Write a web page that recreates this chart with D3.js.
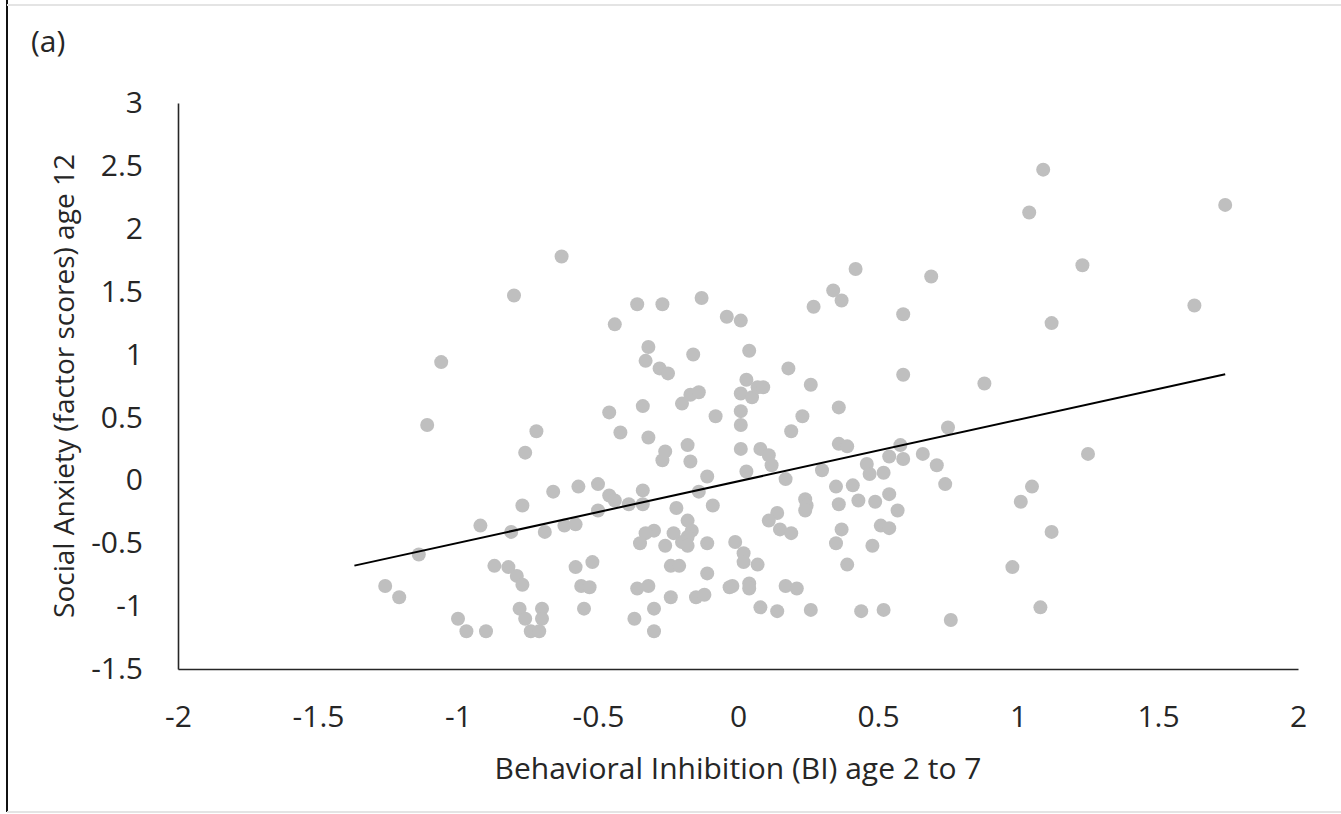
<!DOCTYPE html>
<html>
<head>
<meta charset="utf-8">
<script src="https://cdn.jsdelivr.net/npm/d3@7"></script>
<style>
  html, body { margin: 0; padding: 0; background: #fff; }
  svg { display: block; }
  text { font-family: "Open Sans", "Noto Sans", sans-serif; fill: #262626; }
</style>
</head>
<body>
<svg id="chart" width="1341" height="814"></svg>
<script>
// BI (x) vs social anxiety (y)
const biScores = [
  -0.63, -0.80, -0.44, -1.06, -1.11, -0.72, -0.46, -0.42, -0.76, -0.77,
  -0.66, -0.57, -0.50, -0.46, -0.44, -0.50, -0.92, -0.81, -0.69, -0.62,
  -0.58, -1.14, -0.87, -0.82, -0.79, -0.77, -0.58, -0.52, -0.56, -0.53,
  -1.26, -1.21, -0.78, -0.70, -0.76, -0.70, -0.55, -1.00, -0.97, -0.90,
  -0.74, -0.71,
  0.42, 0.34, 0.37, 0.27, -0.36, -0.27, -0.13, -0.04, 0.01, -0.32,
  -0.33, -0.28, -0.25, -0.16, 0.04, 0.18, 0.03, 0.01, 0.05, 0.07,
  0.09, 0.26, -0.20, -0.17, -0.14, -0.34, -0.08, 0.01, 0.01, 0.23,
  0.36, 0.19, -0.32, -0.18, 0.01, 0.08, 0.36, 0.39,
  -0.26, -0.27, -0.17, 0.11, 0.12, 0.03, 0.17, -0.11, -0.14, -0.09,
  -0.22, -0.34, -0.34, -0.39, 0.30, 0.46, 0.47, 0.52, 0.35, 0.41,
  0.36, 0.43, 0.49, 0.24, 0.245, 0.24, 0.14, 0.11, 0.15, 0.19,
  0.37, 0.35, 0.48, 0.51, 0.39, -0.18, -0.165, -0.18, -0.20, -0.18,
  -0.23, -0.26, -0.30, -0.33, -0.35, -0.11, -0.01, 0.02, 0.02, 0.07,
  -0.24, -0.21, -0.11, -0.36, -0.32, -0.24, -0.15, -0.12, -0.03, -0.02,
  0.04, 0.04, 0.17, 0.21, -0.30, -0.37, -0.30, 0.08, 0.14, 0.26,
  0.44, 0.52,
  1.09, 1.04, 1.74, 1.23, 0.69, 0.59, 1.12, 1.63, 0.59, 0.88,
  0.75, 0.58, 1.25, 0.54, 0.59, 0.66, 0.71, 0.74, 0.54, 0.57,
  0.54, 1.05, 1.01, 1.12, 0.98, 1.08, 0.76
];
const anxietyScores = [
  1.78, 1.47, 1.24, 0.94, 0.44, 0.39, 0.54, 0.38, 0.22, -0.20,
  -0.09, -0.05, -0.03, -0.12, -0.16, -0.24, -0.36, -0.41, -0.41, -0.36,
  -0.35, -0.59, -0.68, -0.69, -0.76, -0.83, -0.69, -0.65, -0.84, -0.85,
  -0.84, -0.93, -1.02, -1.02, -1.10, -1.10, -1.02, -1.10, -1.20, -1.20,
  -1.20, -1.20,
  1.68, 1.51, 1.43, 1.38, 1.40, 1.40, 1.45, 1.30, 1.27, 1.06,
  0.95, 0.89, 0.85, 1.00, 1.03, 0.89, 0.80, 0.69, 0.66, 0.74,
  0.74, 0.76, 0.61, 0.68, 0.70, 0.59, 0.51, 0.55, 0.44, 0.51,
  0.58, 0.39, 0.34, 0.28, 0.25, 0.25, 0.29, 0.27,
  0.23, 0.16, 0.15, 0.20, 0.12, 0.07, 0.01, 0.03, -0.09, -0.20,
  -0.22, -0.08, -0.19, -0.19, 0.08, 0.13, 0.05, 0.06, -0.05, -0.04,
  -0.19, -0.16, -0.17, -0.15, -0.20, -0.24, -0.26, -0.32, -0.39, -0.42,
  -0.39, -0.50, -0.52, -0.36, -0.67, -0.32, -0.40, -0.45, -0.49, -0.52,
  -0.42, -0.52, -0.40, -0.42, -0.50, -0.50, -0.49, -0.58, -0.65, -0.67,
  -0.68, -0.68, -0.74, -0.86, -0.84, -0.93, -0.93, -0.91, -0.85, -0.84,
  -0.82, -0.86, -0.84, -0.86, -1.02, -1.10, -1.20, -1.01, -1.04, -1.03,
  -1.04, -1.03,
  2.47, 2.13, 2.19, 1.71, 1.62, 1.32, 1.25, 1.39, 0.84, 0.77,
  0.42, 0.28, 0.21, 0.19, 0.17, 0.21, 0.12, -0.03, -0.11, -0.24,
  -0.38, -0.05, -0.17, -0.41, -0.69, -1.01, -1.11
];
// linear trend line drawn in the figure
const trendX = [-1.37, 1.74];
const trendSlope = 0.489;
const trendIntercept = -0.008;

const xTicks = [-2, -1.5, -1, -0.5, 0, 0.5, 1, 1.5, 2];
const yTicks = [-1.5, -1, -0.5, 0, 0.5, 1, 1.5, 2, 2.5, 3];

const svg = d3.select('#chart');
const W = 1341, H = 814;
const m = { left: 178, right: 1298, top: 103, bottom: 669 };
const FS = 30;

const x = d3.scaleLinear().domain([-2, 2]).range([m.left, m.right]);
const y = d3.scaleLinear().domain([-1.5, 3]).range([m.bottom, m.top]);

// outer frame
svg.append('line').attr('x1', 7).attr('x2', 7).attr('y1', 0).attr('y2', 812)
  .attr('stroke', '#111').attr('stroke-width', 2);
svg.append('line').attr('x1', 7).attr('x2', W).attr('y1', 5).attr('y2', 5)
  .attr('stroke', '#e4e4e4').attr('stroke-width', 2);
svg.append('line').attr('x1', 7).attr('x2', W).attr('y1', 812).attr('y2', 812)
  .attr('stroke', '#e4e4e4').attr('stroke-width', 2);

svg.append('text').attr('x', 31).attr('y', 52).attr('font-size', FS).text('(a)');

// axes, no tick marks
const fmt = d => String(d);
const gx = svg.append('g').attr('transform', `translate(0,${m.bottom})`)
  .call(d3.axisBottom(x).tickValues(xTicks).tickSize(0).tickFormat(fmt));
const gy = svg.append('g').attr('transform', `translate(${m.left},0)`)
  .call(d3.axisLeft(y).tickValues(yTicks).tickSize(0).tickPadding(35).tickFormat(fmt));
[gx, gy].forEach(g => {
  g.select('.domain').attr('stroke', '#262626').attr('stroke-width', 1.6);
  g.selectAll('text').attr('font-size', FS).attr('font-family', '"Open Sans", sans-serif').attr('fill', '#262626');
});
gx.selectAll('text').attr('dy', null).attr('y', 58);

svg.append('g').selectAll('circle')
  .data(biScores.map((b, i) => [b, anxietyScores[i]]))
  .join('circle')
  .attr('cx', d => x(d[0]))
  .attr('cy', d => y(d[1]))
  .attr('r', 7)
  .attr('fill', '#bfbfbf');

svg.append('line')
  .attr('x1', x(trendX[0])).attr('y1', y(trendSlope * trendX[0] + trendIntercept))
  .attr('x2', x(trendX[1])).attr('y2', y(trendSlope * trendX[1] + trendIntercept))
  .attr('stroke', '#000').attr('stroke-width', 2);

svg.append('text').attr('x', (m.left + m.right) / 2).attr('y', 779)
  .attr('text-anchor', 'middle').attr('font-size', FS)
  .text('Behavioral Inhibition (BI) age 2 to 7');
svg.append('text')
  .attr('transform', `translate(74,${(m.top + m.bottom) / 2}) rotate(-90)`)
  .attr('text-anchor', 'middle').attr('font-size', 28)
  .text('Social Anxiety (factor scores) age 12');
</script>
</body>
</html>
